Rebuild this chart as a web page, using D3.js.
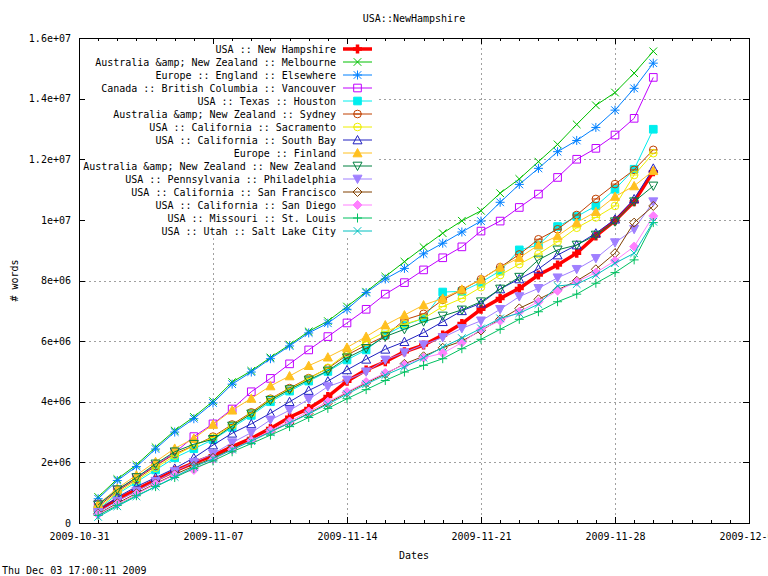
<!DOCTYPE html>
<html>
<head>
<meta charset="utf-8">
<script src="https://cdn.jsdelivr.net/npm/d3@7"></script>
<style>
body { margin: 0; background: #fff; }
svg { display: block; font-family: "DejaVu Sans Mono", monospace; font-size: 10px; }
</style>
</head>
<body>
<svg width="768" height="576"></svg>
<script>
// daily samples, Nov 1 .. Nov 30 2009
var dates = ["2009-11-01","2009-11-02","2009-11-03","2009-11-04","2009-11-05","2009-11-06","2009-11-07",
    "2009-11-08","2009-11-09","2009-11-10","2009-11-11","2009-11-12","2009-11-13","2009-11-14",
    "2009-11-15","2009-11-16","2009-11-17","2009-11-18","2009-11-19","2009-11-20","2009-11-21",
    "2009-11-22","2009-11-23","2009-11-24","2009-11-25","2009-11-26","2009-11-27","2009-11-28",
    "2009-11-29","2009-11-30"];

var names = ["USA :: New Hampshire", "Australia &amp; New Zealand :: Melbourne", "Europe :: England :: Elsewhere",
    "Canada :: British Columbia :: Vancouver", "USA :: Texas :: Houston", "Australia &amp; New Zealand :: Sydney",
    "USA :: California :: Sacramento", "USA :: California :: South Bay", "Europe :: Finland",
    "Australia &amp; New Zealand :: New Zealand", "USA :: Pennsylvania :: Philadelphia",
    "USA :: California :: San Francisco", "USA :: California :: San Diego", "USA :: Missouri :: St. Louis",
    "USA :: Utah :: Salt Lake City"];

var colors = ["#ff0000","#00c000","#0080ff","#c000ff","#00eeee","#c04000","#eeee00","#2020c0",
    "#ffc020","#008040","#a080ff","#804000","#ff80ff","#00c060","#00c0c0"];

var symbols = ["plus","cross","star","box","boxF","circle","circle","tri","triF","tridown","tridownF",
    "diamond","diamondF","plus","cross"];

// millions of words
var newHampshire = [0.42,0.78,1.10,1.42,1.72,1.98,2.22,2.52,2.79,3.12,3.49,3.78,4.17,4.68,5.05,
    5.32,5.65,5.87,6.20,6.58,7.05,7.41,7.74,8.18,8.51,8.90,9.47,9.97,10.60,11.59];
var melbourne = [0.86,1.45,1.92,2.50,3.05,3.50,4.02,4.65,5.02,5.46,5.88,6.32,6.66,7.14,7.63,
    8.13,8.62,9.10,9.56,9.97,10.30,10.88,11.35,11.92,12.49,13.15,13.78,14.20,14.84,15.56];
var england = [0.80,1.40,1.86,2.44,3.00,3.44,3.96,4.58,4.98,5.42,5.84,6.27,6.59,7.05,7.60,
    8.05,8.40,8.88,9.23,9.60,9.96,10.58,11.17,11.70,12.25,12.62,13.05,13.62,14.34,15.17];
var vancouver = [0.62,1.08,1.50,1.90,2.32,2.85,3.27,3.76,4.33,4.77,5.25,5.71,6.15,6.60,7.05,
    7.55,7.93,8.35,8.75,9.11,9.63,9.96,10.41,10.85,11.40,12.00,12.36,12.80,13.35,14.70];
var houston = [0.45,0.95,1.35,1.75,2.15,2.45,2.75,3.15,3.55,4.00,4.35,4.68,5.00,5.38,5.71,
    6.20,6.53,6.75,7.62,7.64,7.94,8.32,9.01,9.17,9.78,10.11,10.46,11.01,11.67,12.99];
var sydney = [0.55,1.05,1.45,1.88,2.28,2.55,2.85,3.25,3.65,4.10,4.45,4.78,5.10,5.54,5.87,
    6.17,6.70,6.90,7.36,7.69,8.04,8.44,8.86,9.36,9.69,10.16,10.69,11.18,11.65,12.31];
var sacramento = [0.50,1.00,1.40,1.82,2.22,2.55,2.82,3.22,3.62,4.08,4.42,4.76,5.12,5.60,5.98,
    6.31,6.56,6.75,7.14,7.41,7.78,8.18,8.54,8.87,9.28,9.74,10.08,10.46,11.48,12.20];
var southBay = [0.40,0.85,1.20,1.50,1.80,2.15,2.57,2.96,3.27,3.62,4.00,4.37,4.68,5.05,5.40,
    5.73,5.98,6.28,6.64,7.00,7.25,7.72,8.05,8.38,8.84,9.17,9.56,10.02,10.69,11.70];
var finland = [0.62,1.14,1.58,2.02,2.46,2.79,3.25,3.72,4.11,4.52,4.85,5.19,5.47,5.79,6.15,
    6.53,6.86,7.19,7.41,7.71,8.04,8.44,8.75,9.17,9.47,9.91,10.27,10.77,11.12,11.62];
var newZealand = [0.60,1.10,1.50,1.95,2.35,2.60,2.76,3.20,3.60,4.05,4.40,4.72,5.02,5.45,5.76,
    6.15,6.39,6.64,6.83,7.03,7.30,7.72,8.11,8.68,9.01,9.17,9.50,9.94,10.60,11.12];
var philadelphia = [0.35,0.72,1.05,1.38,1.70,2.00,2.28,2.65,2.98,3.40,3.72,4.08,4.50,4.72,4.99,
    5.38,5.62,5.88,6.12,6.42,6.67,7.05,7.47,7.74,8.09,8.37,8.73,9.25,9.69,10.60];
var sanFrancisco = [0.30,0.65,0.98,1.30,1.60,1.88,2.15,2.45,2.72,3.02,3.30,3.62,3.95,4.30,4.62,
    4.92,5.25,5.50,5.78,6.00,6.35,6.72,7.08,7.38,7.69,7.99,8.37,8.90,9.91,10.46];
var sanDiego = [0.28,0.62,0.95,1.28,1.58,1.75,2.10,2.42,2.72,3.05,3.35,3.68,4.00,4.32,4.65,
    4.95,5.22,5.45,5.60,5.95,6.39,6.67,6.97,7.30,7.66,7.96,8.26,8.65,9.12,10.13];
var stLouis = [0.25,0.58,0.90,1.20,1.50,1.80,2.05,2.35,2.62,2.90,3.18,3.48,3.78,4.10,4.40,
    4.70,4.98,5.20,5.42,5.75,6.06,6.39,6.72,6.97,7.30,7.55,7.91,8.26,8.68,9.91];
var saltLakeCity = [0.20,0.55,0.88,1.20,1.52,1.85,2.12,2.42,2.70,3.00,3.30,3.60,3.92,4.25,4.58,
    4.88,5.15,5.45,5.80,6.10,6.42,6.75,6.92,7.22,7.82,7.88,8.18,8.57,8.90,9.94];

var xTicks = ["2009-10-31","2009-11-07","2009-11-14","2009-11-21","2009-11-28","2009-12-05"];
var yTicks = [0, 2e6, 4e6, 6e6, 8e6, 1e7, 1.2e7, 1.4e7, 1.6e7];
var yTickLabels = ["0","2e+06","4e+06","6e+06","8e+06","1e+07","1.2e+07","1.4e+07","1.6e+07"];

var allValues = [newHampshire, melbourne, england, vancouver, houston, sydney, sacramento, southBay,
    finland, newZealand, philadelphia, sanFrancisco, sanDiego, stLouis, saltLakeCity];

var parse = d3.utcParse("%Y-%m-%d");
var series = names.map((n, i) => ({
    name: n,
    color: colors[i],
    symbol: symbols[i],
    width: i == 0 ? 3.5 : 1,
    points: allValues[i].map((v, j) => ({date: parse(dates[j]), value: v * 1e6}))
}));

var svg = d3.select("svg"),
    x0 = 79, x1 = 749, y0 = 38, y1 = 523;

var x = d3.scaleUtc().domain([parse(xTicks[0]), parse(xTicks[xTicks.length - 1])]).range([x0, x1]),
    y = d3.scaleLinear().domain([0, 1.6e7]).range([y1, y0]);

function marker(type, s) {
    var t = s * 0.85;
    switch (type) {
        case "plus": return `M${-s},0H${s}M0,${-s}V${s}`;
        case "cross": return `M${-t},${-t}L${t},${t}M${-t},${t}L${t},${-t}`;
        case "star": return `M${-s},0H${s}M0,${-s}V${s}M${-t},${-t}L${t},${t}M${-t},${t}L${t},${-t}`;
        case "box": case "boxF": return `M${-t},${-t}H${t}V${t}H${-t}Z`;
        case "circle": return d3.arc()({innerRadius: 0, outerRadius: t, startAngle: 0, endAngle: 2 * Math.PI}) + `M${-t},0H${t}`;
        case "tri": case "triF": return `M0,${-s}L${s},${t}H${-s}Z`;
        case "tridown": case "tridownF": return `M0,${s}L${s},${-t}H${-s}Z`;
        case "diamond": case "diamondF": return `M0,${-s}L${s},0L0,${s}L${-s},0Z`;
    }
}
var filled = t => /F$/.test(t);

// grid
var grid = svg.append("g").attr("stroke", "#a0a0a0").attr("stroke-dasharray", "2,3").attr("shape-rendering", "crispEdges");
grid.selectAll(".gy").data(yTicks.slice(1, -1)).enter().append("line")
    .attr("x1", x0).attr("x2", x1).attr("y1", d => Math.round(y(d)) + 0.5).attr("y2", d => Math.round(y(d)) + 0.5);
grid.selectAll(".gx").data(xTicks.slice(1, -1)).enter().append("line")
    .attr("y1", y0).attr("y2", y1).attr("x1", d => Math.round(x(parse(d))) + 0.5).attr("x2", d => Math.round(x(parse(d))) + 0.5);

// key background hides the grid
svg.append("rect").attr("x", 82).attr("y", 41).attr("width", 296).attr("height", 197).attr("fill", "#fff");

// axes, ticks mirrored inward on all sides
var days = d3.utcDay.range(x.domain()[0], d3.utcDay.offset(x.domain()[1], 1));
function styleAxis(g) {
    g.select(".domain").remove();
    g.selectAll("line").attr("stroke", "#000").attr("shape-rendering", "crispEdges");
    g.selectAll("text").attr("fill", "#000");
    g.attr("font-family", null).attr("font-size", null);
}
svg.append("g").attr("transform", `translate(${x0},0)`)
    .call(d3.axisLeft(y).tickValues(yTicks).tickFormat((d, i) => yTickLabels[i]).tickSize(-6).tickPadding(8)).call(styleAxis);
svg.append("g").attr("transform", `translate(${x1},0)`)
    .call(d3.axisRight(y).tickValues(yTicks).tickFormat("").tickSize(-6)).call(styleAxis);
svg.append("g").attr("transform", `translate(0,${y1})`)
    .call(d3.axisBottom(x).tickValues(xTicks.map(parse)).tickFormat(d3.utcFormat("%Y-%m-%d")).tickSize(-6).tickPadding(10)).call(styleAxis);
svg.append("g").attr("transform", `translate(0,${y0})`)
    .call(d3.axisTop(x).tickValues(xTicks.map(parse)).tickFormat("").tickSize(-6)).call(styleAxis);
svg.append("g").attr("transform", `translate(0,${y1})`)
    .call(d3.axisBottom(x).tickValues(days).tickFormat("").tickSize(-3)).call(styleAxis);
svg.append("g").attr("transform", `translate(0,${y0})`)
    .call(d3.axisTop(x).tickValues(days).tickFormat("").tickSize(-3)).call(styleAxis);

// data
var line = d3.line().x(d => x(d.date)).y(d => y(d.value));
series.forEach(function(s) {
    var g = svg.append("g").attr("stroke", s.color).attr("stroke-width", s.width);
    g.append("path").attr("d", line(s.points)).attr("fill", "none");
    g.selectAll("path.m").data(s.points).enter().append("path").attr("class", "m")
        .attr("transform", d => `translate(${x(d.date)},${y(d.value)})`)
        .attr("d", marker(s.symbol, 4.5))
        .attr("fill", filled(s.symbol) ? s.color : "none");
});

// key
var key = svg.append("g");
series.forEach(function(s, i) {
    var ky = 49 + i * 13;
    key.append("text").attr("x", 336).attr("y", ky).attr("dy", "0.35em").attr("text-anchor", "end").text(s.name);
    var g = key.append("g").attr("stroke", s.color).attr("stroke-width", s.width);
    g.append("line").attr("x1", 343).attr("x2", 372).attr("y1", ky).attr("y2", ky);
    g.append("path").attr("transform", `translate(357.5,${ky})`).attr("d", marker(s.symbol, 4.5))
        .attr("fill", filled(s.symbol) ? s.color : "none");
});

// border
svg.append("rect").attr("x", x0 + 0.5).attr("y", y0 + 0.5).attr("width", x1 - x0).attr("height", y1 - y0)
    .attr("fill", "none").attr("stroke", "#000").attr("shape-rendering", "crispEdges");

// labels
svg.append("text").attr("x", (x0 + x1) / 2).attr("y", 22).attr("text-anchor", "middle").text("USA::NewHampshire");
svg.append("text").attr("x", (x0 + x1) / 2).attr("y", 559).attr("text-anchor", "middle").text("Dates");
svg.append("text").attr("transform", `translate(18,${(y0 + y1) / 2}) rotate(-90)`).attr("text-anchor", "middle").text("# words");
svg.append("text").attr("x", 2).attr("y", 574).text("Thu Dec 03 17:00:11 2009");
</script>
</body>
</html>
